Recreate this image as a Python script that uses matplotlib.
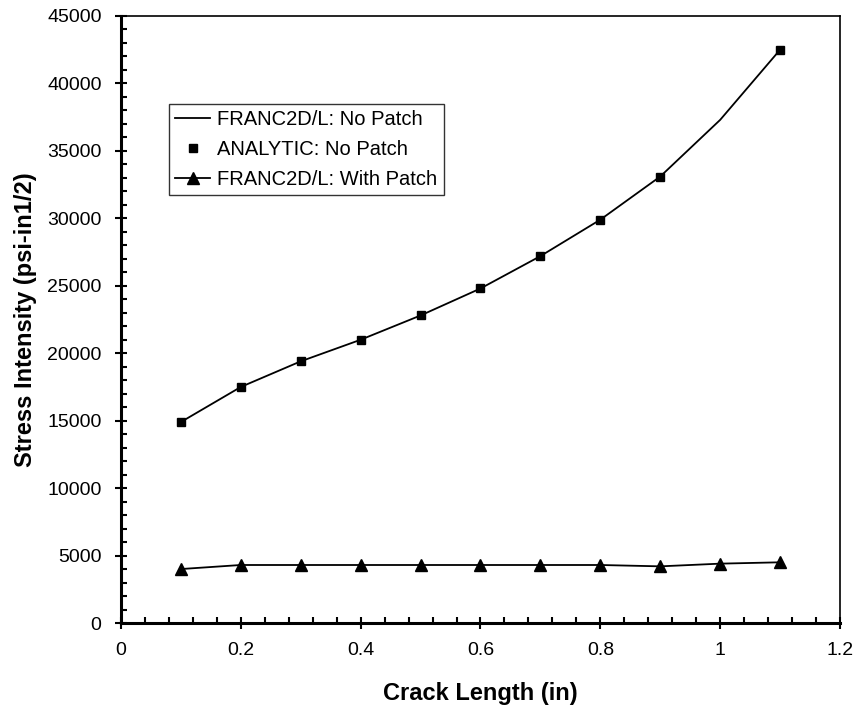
import matplotlib
matplotlib.use("Agg")
import matplotlib.pyplot as plt
from matplotlib.ticker import MultipleLocator

plt.rcParams['font.family'] = ['Liberation Sans', 'DejaVu Sans']

crack_length = [0.1, 0.2, 0.3, 0.4, 0.5, 0.6, 0.7, 0.8, 0.9, 1.0, 1.1]
franc_no_patch = [14900, 17500, 19400, 21000, 22800, 24800, 27200, 29900, 33100, 37300, 42500]
analytic_x = [0.1, 0.2, 0.3, 0.4, 0.5, 0.6, 0.7, 0.8, 0.9, 1.1]
analytic_no_patch = [14900, 17500, 19400, 21000, 22800, 24800, 27200, 29900, 33100, 42500]
franc_with_patch = [4000, 4300, 4300, 4300, 4300, 4300, 4300, 4300, 4200, 4400, 4500]

fig = plt.figure(figsize=(8.54, 7.11), dpi=100)
ax = fig.add_axes([121/854, 1-623/711, (840-121)/854, (623-16)/711])

ax.plot(crack_length, franc_no_patch, color='black', lw=1.3, label='FRANC2D/L: No Patch')
ax.plot(analytic_x, analytic_no_patch, ls='none', marker='s', ms=6, mfc='black', mec='black',
        label='ANALYTIC: No Patch')
ax.plot(crack_length, franc_with_patch, color='black', lw=1.3, marker='^', ms=8,
        label='FRANC2D/L: With Patch')

ax.set_xlim(0, 1.2)
ax.set_ylim(0, 45000)
ax.xaxis.set_minor_locator(MultipleLocator(0.04))
ax.yaxis.set_major_locator(MultipleLocator(5000))
ax.yaxis.set_minor_locator(MultipleLocator(1000))
ax.set_xticks([0, 0.2, 0.4, 0.6, 0.8, 1.0, 1.2])
ax.set_xticklabels(['0', '0.2', '0.4', '0.6', '0.8', '1', '1.2'])
ax.tick_params(which='major', direction='inout', length=8, width=1.5, labelsize=14)
ax.tick_params(which='minor', direction='in', length=4, width=1.5)
ax.tick_params(axis='y', which='major', pad=10)
ax.tick_params(axis='x', which='major', pad=10)

for s in ['left', 'bottom']:
    ax.spines[s].set_linewidth(2.2)
for s in ['top', 'right']:
    ax.spines[s].set_linewidth(1.2)

ax.set_xlabel('Crack Length (in)', fontsize=17, fontweight='bold', labelpad=16)
ax.set_ylabel('Stress Intensity (psi-in1/2)', fontsize=17, fontweight='bold', labelpad=7.5)

leg = ax.legend(loc='upper left', bbox_to_anchor=((169-121)/719, (623-104)/607),
                frameon=True, fancybox=False, edgecolor='black', fontsize=14.5,
                borderaxespad=0, handlelength=1.75, handletextpad=0.35, borderpad=0.3,
                labelspacing=0.55)
leg.get_frame().set_linewidth(1.0)

fig.savefig('out.png', dpi=100)
